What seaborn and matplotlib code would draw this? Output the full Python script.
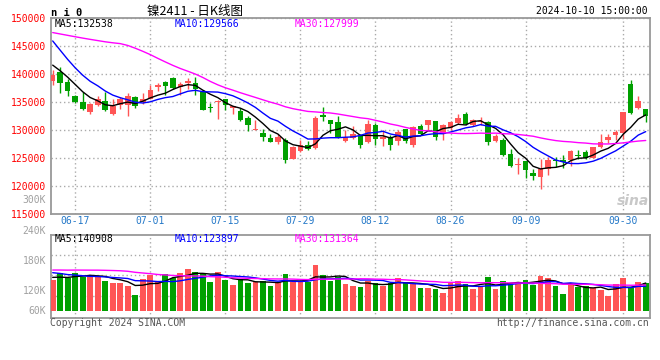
import numpy as np
import pandas as pd
import matplotlib
matplotlib.use("Agg")
import matplotlib.pyplot as plt
import seaborn as sns

# ---------------- data ----------------
dates = ["06-12", "06-13", "06-14",
         "06-17", "06-18", "06-19", "06-20", "06-21",
         "06-24", "06-25", "06-26", "06-27", "06-28",
         "07-01", "07-02", "07-03", "07-04", "07-05",
         "07-08", "07-09", "07-10", "07-11", "07-12",
         "07-15", "07-16", "07-17", "07-18", "07-19",
         "07-22", "07-23", "07-24", "07-25", "07-26",
         "07-29", "07-30", "07-31", "08-01", "08-02",
         "08-05", "08-06", "08-07", "08-08", "08-09",
         "08-12", "08-13", "08-14", "08-15", "08-16",
         "08-19", "08-20", "08-21", "08-22", "08-23",
         "08-26", "08-27", "08-28", "08-29", "08-30",
         "09-02", "09-03", "09-04", "09-05", "09-06",
         "09-09", "09-10", "09-11", "09-12", "09-13",
         "09-18", "09-19", "09-20",
         "09-23", "09-24", "09-25", "09-26", "09-27",
         "09-30", "10-08", "10-09", "10-10"]

opens = [138820, 140355, 138580, 136096, 135031, 133139, 134380, 135150, 132902, 134499,
         134380, 135860, 134913, 135623, 137634, 138580, 139350, 137752, 138462, 138344,
         136747, 134144, 134913, 135505, 133848, 133316, 132192, 130004, 129530, 128643,
         127933, 128288, 124739, 126218, 127401, 126750, 132724, 131719, 131482, 127992,
         128525, 128880, 127815, 130950, 128466, 128762, 128111, 130122, 127401, 130654,
         130832, 131542, 129353, 130299, 131246, 132902, 130832, 131364, 131482, 127992,
         128288, 125627, 123793, 124384, 122374, 121604, 122966, 124562, 124562, 124562,
         125568, 126159, 125035, 126987, 128170, 129057, 129471, 138226, 133907, 133789]

highs = [140710, 141300, 139050, 136300, 136806, 134795, 136096, 136806, 135623, 135860,
         136569, 136096, 136687, 137989, 138344, 138700, 139527, 138580, 139290, 139527,
         137161, 134795, 135446, 135564, 134321, 133907, 132429, 131719, 130241, 129353,
         129235, 128525, 127224, 128288, 127992, 132429, 134085, 131837, 132429, 129944,
         130773, 129235, 131837, 131246, 130063, 129176, 130063, 130241, 130773, 131127,
         131837, 131600, 131127, 131660, 132902, 133139, 131956, 132310, 131542, 129353,
         128584, 126632, 125035, 124444, 122966, 124739, 125153, 125153, 125449, 126395,
         126395, 126514, 126987, 129353, 129353, 129944, 133139, 138935, 136096, 133789]

lows = [138050, 136690, 136155, 134900, 133612, 132784, 134203, 133434, 132725, 133730,
        132429, 133848, 134676, 135505, 137042, 136333, 137397, 136214, 137279, 136333,
        133612, 133198, 132015, 133612, 132902, 131660, 129885, 129944, 128111, 127874,
        127460, 124089, 124739, 126100, 126514, 126632, 131660, 129471, 128584, 127815,
        128466, 126868, 127756, 127283, 127105, 126514, 127283, 127697, 126987, 129116,
        129944, 128170, 128170, 130063, 131009, 130950, 130654, 130950, 127401, 127933,
        125331, 123438, 122078, 121427, 121072, 119534, 121959, 123379, 123202, 123557,
        124739, 124858, 124917, 126868, 127697, 128170, 128466, 132902, 133730, 131364]

closes = [139820, 138462, 137040, 135031, 133789, 134676, 135505, 133493, 134203, 135623,
          136096, 134203, 135564, 137161, 138048, 137871, 137516, 138226, 138817, 137397,
          133612, 133848, 135209, 134380, 134203, 131837, 130832, 130241, 128702, 127933,
          128702, 124621, 126928, 127401, 126632, 132074, 132251, 131009, 128702, 128762,
          129353, 127283, 131127, 128407, 128702, 127283, 129590, 128052, 130536, 129353,
          131719, 128762, 130950, 131482, 132192, 131127, 131837, 131660, 127815, 128998,
          125449, 123557, 123970, 122847, 121782, 123083, 124562, 124384, 124325, 126218,
          125271, 124917, 126928, 127815, 128702, 129649, 133139, 133020, 135209, 132429]

volumes = [156400, 190400, 168300, 193800, 173400, 176800, 176800, 153000, 142800, 139400,
           127500, 79900, 161500, 181900, 146200, 187000, 164900, 193800, 212500, 195500,
           185300, 146200, 197200, 156400, 130900, 159800, 142800, 147900, 151300, 125800,
           147900, 187000, 147900, 147900, 147900, 232900, 181900, 151300, 170000, 136000,
           127500, 120700, 151300, 139400, 127500, 139400, 166600, 139400, 134300, 113900,
           117300, 110500, 90100, 146200, 151300, 134300, 110500, 127500, 171700, 110500,
           151300, 141100, 146200, 156400, 132600, 176800, 166600, 125800, 85000, 136000,
           120700, 125800, 113900, 105400, 74800, 136000, 166600, 113900, 146200, 142800]

# sessions before the window, inferred from where the moving-average lines start
prior_closes = [146000, 144500, 142500, 141000, 141500, 142000, 140000, 139500, 140000,
                146000, 149000, 152000, 155000, 158000,
                157000, 156000, 155000, 153500, 152500, 152000,
                155000, 153500, 150000, 147000, 145580,
                143500, 142800, 141500, 140300]
prior_volumes = [190000, 185000, 182000, 178000, 184000, 180000, 176000, 174000, 178000,
                 205000, 240000, 265000, 285000, 270000,
                 255000, 245000, 235000, 228000, 222000, 207000,
                 230000, 225000, 218000, 210000, 205000,
                 185000, 176000, 170000, 162600]

tick_dates = ["06-17", "07-01", "07-15", "07-29", "08-12", "08-26", "09-09", "09-30"]
price_ticks = [115000, 120000, 125000, 130000, 135000, 140000, 145000, 150000]
price_labels = ["115000", "120000", "125000", "130000", "135000", "140000", "145000", "150000"]
vol_labels = ["240K", "180K", "120K", "60K"]
price_legend = ["MA5:132538", "MA10:129566", "MA30:127999"]
vol_legend = ["MA5:140908", "MA10:123897", "MA30:131364"]

# ---------------- style ----------------
sns.set_theme(style="white")
plt.rcParams['font.family'] = ['DejaVu Sans Mono', 'Noto Sans CJK SC']
plt.rcParams['axes.linewidth'] = 1.3

UP = '#FF5555'
DOWN = '#00A000'
GRID = '#AAAAAA'
FRAME = '#999999'
MA_COLORS = ['#000000', '#0000FF', '#FF00FF']

W, H = 660, 360
fig = plt.figure(figsize=(6.6, 3.6), dpi=100, facecolor='white')


def fx(x):
    return x / W


def fy(y):
    return 1 - y / H


L_PX, R_PX = 50.7, 650.0
ax_p = fig.add_axes([fx(L_PX), fy(214), (R_PX - L_PX) / W, 196 / H])
ax_v = fig.add_axes([fx(L_PX), fy(318.3), (R_PX - L_PX) / W, 83.3 / H])

n = len(dates)
idx = np.arange(n)
o = np.array(opens, float)
h = np.array(highs, float)
l = np.array(lows, float)
c = np.array(closes, float)
v = np.array(volumes, float)
cols = [UP if cc >= oo else DOWN for oo, cc in zip(o, c)]

full_c = pd.Series(prior_closes + closes, dtype=float)
full_v = pd.Series(prior_volumes + volumes, dtype=float)
k = len(prior_closes)
ma_p = [full_c.rolling(w).mean().iloc[k:].values for w in (5, 10, 30)]
ma_v = [full_v.rolling(w).mean().iloc[k:].values for w in (5, 10, 30)]

xlim = (-0.266, 79.57)
tick_pos = [dates.index(d) for d in tick_dates]

# ---------------- price panel ----------------
ax = ax_p
ax.set_facecolor('white')
ax.vlines(idx, l, h, colors=cols, linewidth=1.0, zorder=2)
body = np.maximum(np.abs(c - o), 160)
ax.bar(idx, body, bottom=np.minimum(o, c), width=0.74, color=cols,
       linewidth=0, zorder=3)
for ma, col in zip(ma_p, MA_COLORS):
    sns.lineplot(x=idx, y=ma, ax=ax, color=col, linewidth=1.0, legend=False,
                 zorder=4)
ax.set_xlim(*xlim)
ax.set_ylim(115000, 150000)
ax.set_yticks(price_ticks)
ax.set_yticklabels(price_labels, color='#FF0000', fontsize=7)
ax.set_xticks(tick_pos)
ax.set_xticklabels(tick_dates, color='#2478C8', fontsize=7)
ax.tick_params(axis='both', length=0)
ax.tick_params(axis='y', pad=3.4)
ax.tick_params(axis='x', pad=1.5)
ax.grid(True, color=GRID, linestyle=(0, (1, 2)), linewidth=1.0, zorder=0)
for s in ax.spines.values():
    s.set_color(FRAME)
ax.set_xlabel('')
ax.set_ylabel('')

# ---------------- volume panel ----------------
ax = ax_v
ax.set_facecolor('white')
ax.bar(idx, v, width=0.76, color=cols, linewidth=0, zorder=3)
for ma, col in zip(ma_v, MA_COLORS):
    sns.lineplot(x=idx, y=ma, ax=ax, color=col, linewidth=1.0, legend=False,
                 zorder=4)
ax.set_xlim(*xlim)
ax.set_ylim(-38760, 386070)
ax.set_yticks([])
ax.set_xticks(tick_pos)
ax.set_xticklabels([])
ax.tick_params(axis='both', length=0)
ax.grid(True, axis='x', color=GRID, linestyle=(0, (1, 2)), linewidth=1.0, zorder=0)
for gy in (76500, 180540, 284070):
    ax.axhline(gy, color=GRID, linestyle=(0, (1, 2)), linewidth=1.0, zorder=0)
for s in ax.spines.values():
    s.set_color(FRAME)
ax.set_xlabel('')
ax.set_ylabel('')

# ---------------- texts ----------------
mono = dict(fontsize=7, va='center')
fig.text(fx(50.7), fy(12.5), "n i 0", fontsize=7.5, fontweight='bold', va='center',
         ha='left', color='black')
fig.text(fx(195), fy(11.5), "镍2411 - 日K线图", fontsize=9, va='center', ha='center',
         family=['Noto Sans CJK SC', 'DejaVu Sans'], color='black')
fig.text(fx(648), fy(11.5), "2024-10-10 15:00:00", ha='right', color='black', **mono)

for txt, xx, col in zip(price_legend, (54.3, 174.3, 295), MA_COLORS):
    fig.text(fx(xx), fy(24), txt, ha='left', color=col, **mono)
for txt, xx, col in zip(vol_legend, (54.3, 175, 295), MA_COLORS):
    fig.text(fx(xx), fy(238.5), txt, ha='left', color=col, **mono)

fig.text(fx(46), fy(200), "300K", ha='right', color='#A0A0A0', **mono)
for txt, yy in zip(vol_labels, (230.7, 261, 290.7, 310.7)):
    fig.text(fx(46), fy(yy), txt, ha='right', color='#A0A0A0', **mono)

fig.text(fx(50), fy(323.5), "Copyright 2024 SINA.COM", ha='left', color='#555555', **mono)
fig.text(fx(649), fy(323.5), "http://finance.sina.com.cn", ha='right', color='#555555', **mono)

fig.text(fx(633), fy(201), "sina", ha='center', va='center', fontsize=10,
         fontweight='bold', style='italic', color='#C8C8C8',
         family=['DejaVu Sans'])

fig.savefig("out.png", dpi=100, facecolor='white')
